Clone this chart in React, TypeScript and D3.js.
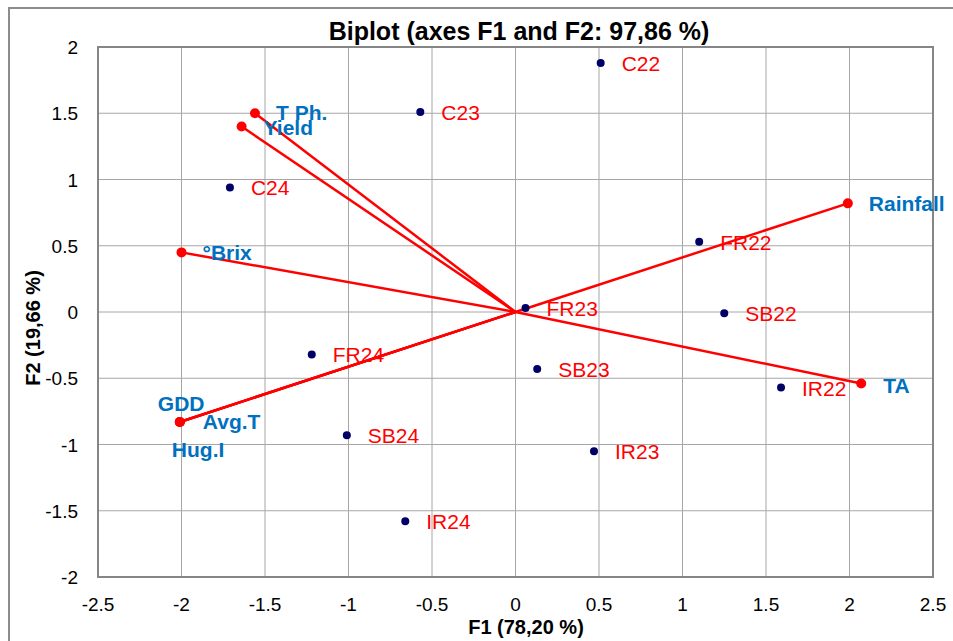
import React, { useEffect, useRef } from 'react';
import * as d3 from 'd3';

// observations (F1, F2)
const obsNames = ['C22', 'C23', 'C24', 'FR22', 'FR23', 'FR24', 'SB22', 'SB23', 'SB24', 'IR22', 'IR23', 'IR24'];
const obsF1 = [0.51, -0.57, -1.71, 1.10, 0.06, -1.22, 1.25, 0.13, -1.01, 1.59, 0.47, -0.66];
const obsF2 = [1.88, 1.51, 0.94, 0.53, 0.03, -0.32, -0.01, -0.43, -0.93, -0.57, -1.05, -1.58];

// variables (loadings)
const varNames = ['T Ph.', 'Yield', '°Brix', 'Rainfall', 'TA', 'GDD', 'Avg.T', 'Hug.I'];
const varF1 = [-1.56, -1.64, -2.0, 1.99, 2.07, -2.01, -2.01, -2.01];
const varF2 = [1.5, 1.4, 0.45, 0.82, -0.54, -0.83, -0.83, -0.83];

const xTicks = [-2.5, -2, -1.5, -1, -0.5, 0, 0.5, 1, 1.5, 2, 2.5];
const yTicks = [-2, -1.5, -1, -0.5, 0, 0.5, 1, 1.5, 2];

// label placement for variables (px offsets from the point to text baseline start)
const varLabelOffset: Record<string, [number, number]> = {
  'T Ph.': [21, 7],
  'Yield': [22, 8],
  '°Brix': [21, 8],
  'Rainfall': [21, 8],
  'TA': [22, 9],
  'GDD': [-22, -11],
  'Avg.T': [23, 7],
  'Hug.I': [-8, 35],
};

const fmt = (v: number) => String(v);

const App = () => {
  const svgRef = useRef<SVGSVGElement>(null);

  useEffect(() => {
    const width = 953;
    const height = 641;
    const svg = d3.select(svgRef.current);
    svg.selectAll('*').remove();
    svg.attr('width', width).attr('height', height)
      .style('font-family', 'Arial, "Liberation Sans", sans-serif');

    const left = 98, right = 933, top = 47, bottom = 577;
    const x = d3.scaleLinear().domain([-2.5, 2.5]).range([left, right]);
    const y = d3.scaleLinear().domain([-2, 2]).range([bottom, top]);

    svg.append('rect')
      .attr('x', 9).attr('y', 8).attr('width', 960).attr('height', 650)
      .attr('fill', 'white').attr('stroke', '#8c8c8c').attr('stroke-width', 2);

    const grid = svg.append('g');
    grid.selectAll('line.vx').data(xTicks).enter().append('line')
      .attr('x1', d => x(d)).attr('x2', d => x(d)).attr('y1', top).attr('y2', bottom)
      .attr('stroke', '#a6a6a6').attr('stroke-width', 1);
    grid.selectAll('line.hy').data(yTicks).enter().append('line')
      .attr('y1', d => y(d)).attr('y2', d => y(d)).attr('x1', left).attr('x2', right)
      .attr('stroke', '#a6a6a6').attr('stroke-width', 1);

    svg.append('rect')
      .attr('x', left).attr('y', top).attr('width', right - left).attr('height', bottom - top)
      .attr('fill', 'none').attr('stroke', '#868686').attr('stroke-width', 2);

    svg.selectAll('text.xt').data(xTicks).enter().append('text')
      .attr('x', d => x(d)).attr('y', 611).attr('text-anchor', 'middle')
      .attr('font-size', 19).text(fmt);
    svg.selectAll('text.yt').data(yTicks).enter().append('text')
      .attr('x', 78).attr('y', d => y(d) + 7).attr('text-anchor', 'end')
      .attr('font-size', 19).text(fmt);

    svg.append('text').attr('x', 519).attr('y', 40).attr('text-anchor', 'middle')
      .attr('font-size', 25).attr('font-weight', 'bold')
      .text('Biplot (axes F1 and F2: 97,86 %)');
    svg.append('text').attr('x', 526).attr('y', 634).attr('text-anchor', 'middle')
      .attr('font-size', 20).attr('font-weight', 'bold').text('F1 (78,20 %)');
    svg.append('text').attr('transform', `translate(40,${y(0) + 16}) rotate(-90)`)
      .attr('text-anchor', 'middle')
      .attr('font-size', 20).attr('font-weight', 'bold').text('F2 (19,66 %)');

    const vars = varNames.map((n, i) => ({ n, f1: varF1[i], f2: varF2[i] }));
    const obs = obsNames.map((n, i) => ({ n, f1: obsF1[i], f2: obsF2[i] }));

    svg.selectAll('line.vec').data(vars).enter().append('line')
      .attr('x1', x(0)).attr('y1', y(0))
      .attr('x2', d => x(d.f1)).attr('y2', d => y(d.f2))
      .attr('stroke', '#ff0000').attr('stroke-width', 2.5);
    svg.selectAll('circle.vp').data(vars).enter().append('circle')
      .attr('cx', d => x(d.f1)).attr('cy', d => y(d.f2)).attr('r', 5)
      .attr('fill', '#ff0000');

    svg.selectAll('circle.op').data(obs).enter().append('circle')
      .attr('cx', d => x(d.f1)).attr('cy', d => y(d.f2)).attr('r', 4)
      .attr('fill', '#000066');
    svg.selectAll('text.ol').data(obs).enter().append('text')
      .attr('x', d => x(d.f1) + 21).attr('y', d => y(d.f2) + 8)
      .attr('font-size', 21).attr('fill', '#ff0000').text(d => d.n);

    svg.selectAll('text.vl').data(vars).enter().append('text')
      .attr('x', d => x(d.f1) + varLabelOffset[d.n][0])
      .attr('y', d => y(d.f2) + varLabelOffset[d.n][1])
      .attr('font-size', 21).attr('font-weight', 'bold').attr('fill', '#0070c0')
      .text(d => d.n);
  }, []);

  return <svg ref={svgRef} style={{ display: 'block', position: 'absolute', left: 0, top: 0 }}></svg>;
};

export default App;
